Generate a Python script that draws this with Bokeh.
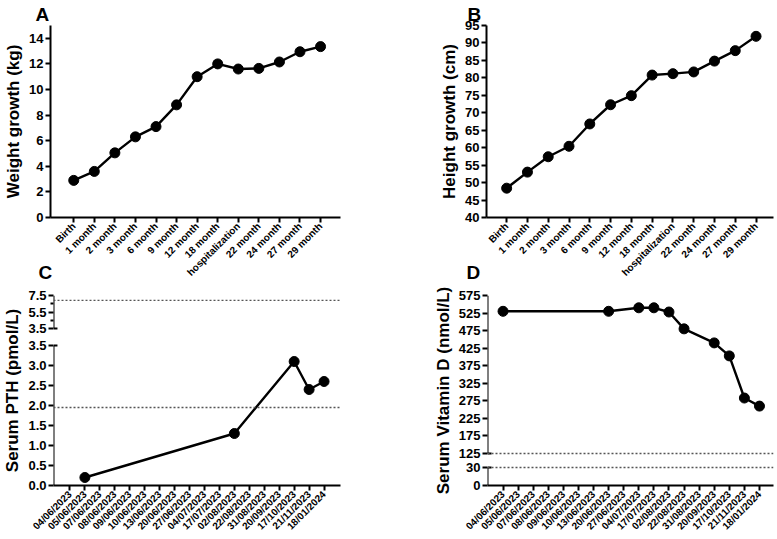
import math
from bokeh.plotting import figure
from bokeh.models import Range1d, FixedTicker, Span, Arrow
from bokeh.layouts import row, column
from bokeh.embed import file_html
from bokeh.resources import INLINE

# ---------------- data ----------------
growth_labels = ["Birth", "1 month", "2 month", "3 month", "6 month", "9 month",
                 "12 month", "18 month", "hospitalization", "22 month", "24 month",
                 "27 month", "29 month"]
weight_kg = [2.9, 3.6, 5.05, 6.3, 7.1, 8.8, 11.0, 12.0, 11.6, 11.65, 12.15, 12.95, 13.35]
height_cm = [48.4, 53.0, 57.4, 60.4, 66.8, 72.3, 74.9, 80.8, 81.2, 81.7, 84.8, 87.8, 91.9]
weight_ticks = [0, 2, 4, 6, 8, 10, 12, 14]
height_ticks = [40, 45, 50, 55, 60, 65, 70, 75, 80, 85, 90, 95]

date_labels = ["04/06/2023", "05/06/2023", "07/06/2023", "08/06/2023", "09/06/2023",
               "10/06/2023", "13/06/2023", "20/06/2023", "27/06/2023", "04/07/2023",
               "17/07/2023", "02/08/2023", "22/08/2023", "31/08/2023", "20/09/2023",
               "17/10/2023", "21/11/2023", "18/01/2024"]

pth_dates = ["05/06/2023", "02/08/2023", "17/10/2023", "21/11/2023", "18/01/2024"]
pth_values = [0.2, 1.3, 3.1, 2.4, 2.6]
pth_ref_lines = [1.95, 6.9]
pth_low_ticks = [0.0, 0.5, 1.0, 1.5, 2.0, 2.5, 3.0, 3.5]
pth_high_ticks = [3.5, 5.5, 7.5]
pth_high_minor = [4.5, 6.5]

vitd_dates = ["04/06/2023", "20/06/2023", "04/07/2023", "17/07/2023", "02/08/2023",
              "22/08/2023", "20/09/2023", "17/10/2023", "21/11/2023", "18/01/2024"]
vitd_values = [530, 530, 540, 540, 528, 480, 440, 403, 283, 260]
vitd_ref_lines = [30, 125]
vitd_low_ticks = [0, 30]
vitd_high_ticks = [125, 175, 225, 275, 325, 375, 425, 475, 525, 575]

# ---------------- style ----------------
FONT = "Liberation Sans"
BLACK = "black"


def seg_map(v, v0, v1, p0, p1):
    return p0 + (v - v0) / (v1 - v0) * (p1 - p0)


def make_fig(w, h, bl, br, bt, bb, xr, yr):
    p = figure(width=w, height=h, x_range=Range1d(*xr), y_range=Range1d(*yr),
               min_border_left=bl, min_border_right=br, min_border_top=bt,
               min_border_bottom=bb, toolbar_location=None, tools="",
               output_backend="svg")
    p.outline_line_color = None
    p.xgrid.visible = False
    p.ygrid.visible = False
    p.border_fill_color = None
    p.background_fill_color = None
    for ax in p.axis:
        ax.axis_line_width = 2
        ax.axis_line_color = BLACK
        ax.major_tick_line_width = 2
        ax.major_tick_line_color = BLACK
        ax.major_tick_out = 5
        ax.major_tick_in = 0
        ax.minor_tick_line_color = None
        ax.major_label_text_font = FONT
        ax.major_label_text_font_style = "bold"
        ax.major_label_text_color = BLACK
        ax.major_label_standoff = 2
        ax.axis_label_text_font = FONT
        ax.axis_label_text_font_style = "bold"
        ax.axis_label_text_font_size = "17px"
        ax.axis_label_text_color = BLACK
        ax.axis_label_standoff = 3
    p.xaxis.major_label_orientation = math.pi / 4
    p.xaxis.major_label_text_font_size = "10px"
    p.yaxis.major_label_text_font_size = "13px"
    return p


def x_cat_axis(p, labels):
    p.xaxis.ticker = FixedTicker(ticks=list(range(len(labels))))
    p.xaxis.major_label_overrides = {i: lab for i, lab in enumerate(labels)}


def title_letter(p, text, offset, standoff):
    p.title.text = text
    p.title.align = "left"
    p.title.offset = offset
    p.title.standoff = standoff
    p.title.text_font = FONT
    p.title.text_font_style = "bold"
    p.title.text_font_size = "19px"
    p.title.text_color = BLACK


def draw_series(p, xs, ys):
    p.line(xs, ys, line_width=2.4, line_color=BLACK)
    p.scatter(xs, ys, size=10, fill_color=BLACK, line_color=BLACK)


# ---------------- layout geometry (canvas px) ----------------
TOP_H = 285
OVERLAP = 40                 # lower row slides up under the rotated labels
BOT_TOP = TOP_H - OVERLAP
BOT_H = 539 - BOT_TOP
LEFT_W, RIGHT_W = 395, 382

# ---------------- Panel A ----------------
pA = make_fig(LEFT_W, TOP_H, 50, LEFT_W - 340, 25, TOP_H - 217,
              (-1.13, 12.97), (0, 15))
x_cat_axis(pA, growth_labels)
pA.yaxis.ticker = FixedTicker(ticks=weight_ticks)
pA.yaxis.axis_label = "Weight growth (kg)"
draw_series(pA, list(range(len(weight_kg))), weight_kg)
title_letter(pA, "A", -15, 2)

# ---------------- Panel B ----------------
pB = make_fig(RIGHT_W, TOP_H, 486 - LEFT_W, 4, 25, TOP_H - 217,
              (-0.97, 12.84), (40, 95))
x_cat_axis(pB, growth_labels)
pB.yaxis.ticker = FixedTicker(ticks=height_ticks)
pB.yaxis.axis_label = "Height growth (cm)"
draw_series(pB, list(range(len(height_cm))), height_cm)
title_letter(pB, "B", -19, 2)


# ---------------- broken-axis helper ----------------
def broken_panel(p, low, high, lower_px, gap_px, total_px,
                 low_ticks, high_ticks, high_minor, fmt, ref_lines,
                 dates, values, label):
    lo0, lo1 = low
    hi0, hi1 = high

    def t_low(v):
        return seg_map(v, lo0, lo1, 0, lower_px)

    def t_high(v):
        return seg_map(v, hi0, hi1, lower_px + gap_px, total_px)

    def t(v):
        return t_low(v) if v <= lo1 else t_high(v)

    major = [t_low(v) for v in low_ticks] + [t_high(v) for v in high_ticks]
    labels = [fmt(v) for v in low_ticks] + [fmt(v) for v in high_ticks]
    minor = [t_high(v) for v in high_minor]
    p.yaxis.ticker = FixedTicker(ticks=major, minor_ticks=minor)
    p.yaxis.major_label_overrides = {m: lab for m, lab in zip(major, labels)}
    p.yaxis.minor_tick_line_color = BLACK
    p.yaxis.minor_tick_line_width = 2
    p.yaxis.minor_tick_out = 3
    p.yaxis.minor_tick_in = 0
    p.yaxis.axis_line_color = None
    p.yaxis.axis_label = label

    x0 = p.x_range.start
    frame_w = p.width - p.min_border_left - p.min_border_right
    cap = 4 * (p.x_range.end - p.x_range.start) / frame_w
    for (a, b) in [(0, lower_px), (lower_px + gap_px, total_px)]:
        p.add_layout(Arrow(x_start=x0, y_start=a, x_end=x0, y_end=b, end=None,
                           line_width=2, line_color=BLACK))
    for yy in [lower_px, lower_px + gap_px]:
        p.add_layout(Arrow(x_start=x0, y_start=yy, x_end=x0 + cap, y_end=yy, end=None,
                           line_width=2, line_color=BLACK))

    for r in ref_lines:
        p.add_layout(Span(location=t(r), dimension="width", line_dash="2 2",
                          line_color="#555555", line_width=1.3))

    xs = [dates_index[d] for d in dates]
    ys = [t(v) for v in values]
    draw_series(p, xs, ys)


dates_index = {d: i for i, d in enumerate(date_labels)}

# ---------------- Panel C ----------------
C_TOP, C_BOT = 295, 485
C_H = C_BOT - C_TOP
pC = make_fig(LEFT_W, BOT_H, 50, LEFT_W - 340, C_TOP - BOT_TOP, 539 - C_BOT,
              (-1.1, 18.1), (0, C_H))
x_cat_axis(pC, date_labels)
broken_panel(pC, (0.0, 3.5), (3.5, 7.5), 140, 17, C_H,
             pth_low_ticks, pth_high_ticks, pth_high_minor,
             lambda v: "%.1f" % v, pth_ref_lines, pth_dates, pth_values,
             "Serum PTH (pmol/L)")
title_letter(pC, "C", -15, 25)

# ---------------- Panel D ----------------
pD = make_fig(RIGHT_W, BOT_H, 487 - LEFT_W, 4, C_TOP - BOT_TOP, 539 - C_BOT,
              (-1.03, 17.93), (0, C_H))
x_cat_axis(pD, date_labels)
broken_panel(pD, (0, 30), (125, 575), 18, 14, C_H,
             vitd_low_ticks, vitd_high_ticks, [],
             lambda v: "%d" % v, vitd_ref_lines, vitd_dates, vitd_values,
             "Serum Vitamin D (nmol/L)")
title_letter(pD, "D", -21, 25)

bottom = row(pC, pD, styles={"margin-top": "-%dpx" % OVERLAP})
layout = column(row(pA, pB), bottom)
open("out.html", "w").write(file_html(layout, INLINE))
